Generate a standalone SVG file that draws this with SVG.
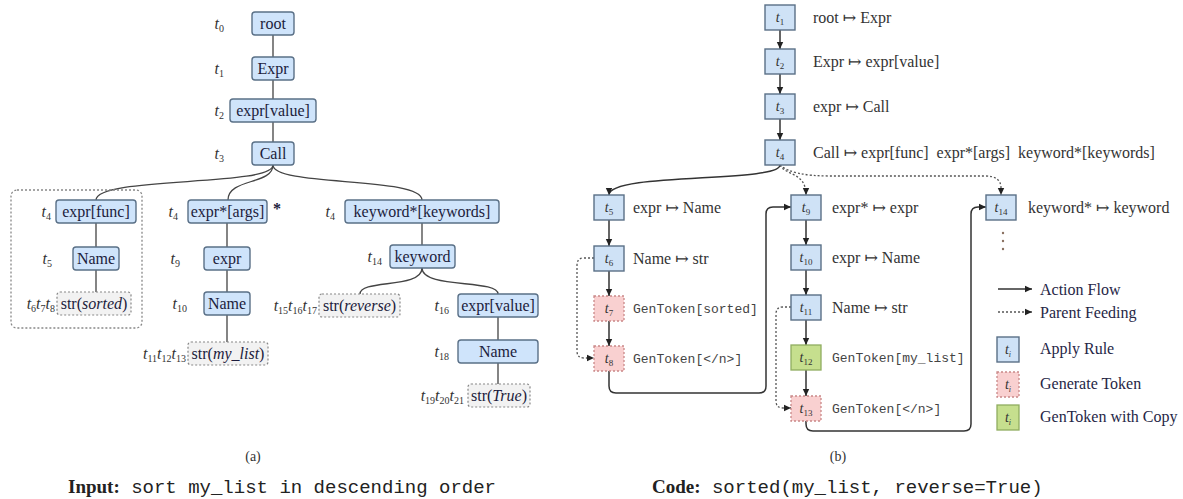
<svg xmlns="http://www.w3.org/2000/svg" width="1183" height="499" viewBox="0 0 1183 499">
<style>
.tn{fill:#cfe4fb;stroke:#5a7087;stroke-width:1.4}
.ts{fill:#f2f2f2;stroke:#888;stroke-width:1.2;stroke-dasharray:2 2}
.ab{fill:#cfe2f6;stroke:#5a7087;stroke-width:1.4}
.gt{fill:#f9d0d0;stroke:#c98888;stroke-width:1.3;stroke-dasharray:2 2}
.gc{fill:#c6df8e;stroke:#90ad60;stroke-width:1.3}
.lbl{font-family:"Liberation Serif","DejaVu Serif",serif;font-size:16px;fill:#1c1c3c;text-anchor:middle}
.tl{font-family:"Liberation Serif","DejaVu Serif",serif;font-size:16px;fill:#333;text-anchor:end}
.tc{font-family:"Liberation Serif","DejaVu Serif",serif;font-size:14px;fill:#333;text-anchor:middle}
.rule{font-family:"Liberation Serif","DejaVu Serif",serif;font-size:16px;fill:#333;white-space:pre}
.gen{font-family:"Liberation Mono","DejaVu Sans Mono",monospace;font-size:13px;fill:#444}
.leg{font-family:"Liberation Serif","DejaVu Serif",serif;font-size:16px;fill:#262646}
.cap{font-family:"Liberation Serif","DejaVu Serif",serif;font-size:14px;fill:#333;text-anchor:middle}
.edge{fill:none;stroke:#444;stroke-width:1.3}
.flow{fill:none;stroke:#333;stroke-width:1.5;marker-end:url(#ah)}
.feed{fill:none;stroke:#555;stroke-width:1.3;stroke-dasharray:2 2;marker-end:url(#ah)}
.frame{fill:none;stroke:#888;stroke-width:1.3;stroke-dasharray:2 2}
</style>
<defs>
<marker id="ah" markerWidth="8" markerHeight="8" refX="7" refY="4" orient="auto" markerUnits="userSpaceOnUse">
<path d="M0,0.8 L7,4 L0,7.2 Z" fill="#222"/>
</marker>
</defs>

<!-- ============ (a) AST ============ -->
<g id="connectors-a">
<path class="edge" d="M273,35 L273,57 M273,80 L273,99 M273,122 L273,142"/>
<path class="edge" d="M273,165 C273,187 96,176 96,200"/>
<path class="edge" d="M273,165 C273,185 228,178 228,200"/>
<path class="edge" d="M273,165 C273,187 422,176 422,200"/>
<path class="edge" d="M96,223 L96,247 M96,270 L96,292"/>
<path class="edge" d="M227,223 L227,247 M227,270 L227,292 M227,315 L227,342"/>
<path class="edge" d="M422,223 L422,245"/>
<path class="edge" d="M422,268 C422,289 360,279 360,294"/>
<path class="edge" d="M422,268 C422,289 498,279 498,294"/>
<path class="edge" d="M498,317 L498,340 M498,363 L498,384"/>
</g>
<rect id="subtree-frame" class="frame" x="11" y="190" width="131" height="138" rx="6"/>

<g id="a-root"><rect class="tn" x="252" y="12" width="42" height="23" rx="3"/><text class="lbl" x="273" y="29">root</text>
<text class="tl" x="224" y="29"><tspan font-style="italic">t</tspan><tspan font-size="10" dy="3">0</tspan></text></g>
<g id="a-expr1"><rect class="tn" x="252" y="57" width="42" height="23" rx="3"/><text class="lbl" x="273" y="74">Expr</text>
<text class="tl" x="224" y="74"><tspan font-style="italic">t</tspan><tspan font-size="10" dy="3">1</tspan></text></g>
<g id="a-exprvalue"><rect class="tn" x="230" y="99" width="86" height="23" rx="3"/><text class="lbl" x="273" y="116">expr[value]</text>
<text class="tl" x="224" y="116"><tspan font-style="italic">t</tspan><tspan font-size="10" dy="3">2</tspan></text></g>
<g id="a-call"><rect class="tn" x="252" y="142" width="42" height="23" rx="3"/><text class="lbl" x="273" y="159">Call</text>
<text class="tl" x="224" y="159"><tspan font-style="italic">t</tspan><tspan font-size="10" dy="3">3</tspan></text></g>

<g id="a-exprfunc"><rect class="tn" x="56" y="200" width="80" height="23" rx="3"/><text class="lbl" x="96" y="217">expr[func]</text>
<text class="tl" x="51" y="217"><tspan font-style="italic">t</tspan><tspan font-size="10" dy="3">4</tspan></text></g>
<g id="a-name5"><rect class="tn" x="73" y="247" width="46" height="23" rx="3"/><text class="lbl" x="96" y="264">Name</text>
<text class="tl" x="52" y="264"><tspan font-style="italic">t</tspan><tspan font-size="10" dy="3">5</tspan></text></g>
<g id="a-strsorted"><rect class="ts" x="57" y="292" width="74" height="23" rx="3"/><text class="lbl" x="94" y="309">str(<tspan font-style="italic">sorted</tspan>)</text>
<text class="tl" x="55" y="309"><tspan font-style="italic">t</tspan><tspan font-size="10" dy="3">6</tspan><tspan font-style="italic" dy="-3">t</tspan><tspan font-size="10" dy="3">7</tspan><tspan font-style="italic" dy="-3">t</tspan><tspan font-size="10" dy="3">8</tspan></text></g>

<g id="a-exprargs"><rect class="tn" x="188" y="200" width="79" height="23" rx="3"/><text class="lbl" x="227.5" y="217">expr*[args]</text>
<text class="tl" x="178" y="217"><tspan font-style="italic">t</tspan><tspan font-size="10" dy="3">4</tspan></text>
<text class="lbl" x="277" y="214" font-weight="bold">*</text></g>
<g id="a-expr9"><rect class="tn" x="204" y="247" width="46" height="23" rx="3"/><text class="lbl" x="227" y="264">expr</text>
<text class="tl" x="180" y="264"><tspan font-style="italic">t</tspan><tspan font-size="10" dy="3">9</tspan></text></g>
<g id="a-name10"><rect class="tn" x="204" y="292" width="46" height="23" rx="3"/><text class="lbl" x="227" y="309">Name</text>
<text class="tl" x="187" y="309"><tspan font-style="italic">t</tspan><tspan font-size="10" dy="3">10</tspan></text></g>
<g id="a-strmylist"><rect class="ts" x="188" y="342" width="80" height="23" rx="3"/><text class="lbl" x="228" y="359">str(<tspan font-style="italic">my_list</tspan>)</text>
<text class="tl" x="186" y="359"><tspan font-style="italic">t</tspan><tspan font-size="10" dy="3">11</tspan><tspan font-style="italic" dy="-3">t</tspan><tspan font-size="10" dy="3">12</tspan><tspan font-style="italic" dy="-3">t</tspan><tspan font-size="10" dy="3">13</tspan></text></g>

<g id="a-keywords"><rect class="tn" x="345" y="200" width="154" height="23" rx="3"/><text class="lbl" x="422" y="217">keyword*[keywords]</text>
<text class="tl" x="335" y="217"><tspan font-style="italic">t</tspan><tspan font-size="10" dy="3">4</tspan></text></g>
<g id="a-keyword"><rect class="tn" x="390" y="245" width="65" height="23" rx="3"/><text class="lbl" x="422.5" y="262">keyword</text>
<text class="tl" x="382" y="262"><tspan font-style="italic">t</tspan><tspan font-size="10" dy="3">14</tspan></text></g>
<g id="a-strreverse"><rect class="ts" x="319" y="294" width="81" height="23" rx="3"/><text class="lbl" x="359.5" y="311">str(<tspan font-style="italic">reverse</tspan>)</text>
<text class="tl" x="317" y="311"><tspan font-style="italic">t</tspan><tspan font-size="10" dy="3">15</tspan><tspan font-style="italic" dy="-3">t</tspan><tspan font-size="10" dy="3">16</tspan><tspan font-style="italic" dy="-3">t</tspan><tspan font-size="10" dy="3">17</tspan></text></g>
<g id="a-exprvalue16"><rect class="tn" x="458" y="294" width="80" height="23" rx="3"/><text class="lbl" x="498" y="311">expr[value]</text>
<text class="tl" x="449" y="311"><tspan font-style="italic">t</tspan><tspan font-size="10" dy="3">16</tspan></text></g>
<g id="a-name18"><rect class="tn" x="458" y="340" width="80" height="23" rx="3"/><text class="lbl" x="498" y="357">Name</text>
<text class="tl" x="449" y="357"><tspan font-style="italic">t</tspan><tspan font-size="10" dy="3">18</tspan></text></g>
<g id="a-strtrue"><rect class="ts" x="468" y="384" width="62" height="23" rx="3"/><text class="lbl" x="499" y="401">str(<tspan font-style="italic">True</tspan>)</text>
<text class="tl" x="464" y="401"><tspan font-style="italic">t</tspan><tspan font-size="10" dy="3">19</tspan><tspan font-style="italic" dy="-3">t</tspan><tspan font-size="10" dy="3">20</tspan><tspan font-style="italic" dy="-3">t</tspan><tspan font-size="10" dy="3">21</tspan></text></g>

<!-- ============ (b) action sequence ============ -->
<g id="connectors-b">
<path class="flow" d="M780,30 L780,49"/>
<path class="flow" d="M780,74 L780,94"/>
<path class="flow" d="M780,119 L780,140"/>
<path class="flow" d="M780,165 C780,183 609,172 609,195"/>
<path class="feed" d="M780,165 C786,176 806,172 806,195"/>
<path class="feed" d="M780,165 Q792,176 830,176 L985,176 Q1001,176 1001,188 L1001,195"/>
<path class="flow" d="M609,220 L609,246"/>
<path class="flow" d="M609,271 L609,296"/>
<path class="flow" d="M609,321 L609,346"/>
<path class="feed" d="M594,258 L584,258 Q577,258 577,265 L577,351 Q577,358 584,358 L594,358"/>
<path class="flow" d="M609,371 L609,386 Q609,393 616,393 L759,393 Q766,393 766,386 L766,214 Q766,207 773,207 L791,207"/>
<path class="flow" d="M806,220 L806,245"/>
<path class="flow" d="M806,270 L806,295"/>
<path class="flow" d="M806,320 L806,345"/>
<path class="flow" d="M806,370 L806,396"/>
<path class="feed" d="M791,307 L783,307 Q776,307 776,314 L776,401 Q776,408 783,408 L791,408"/>
<path class="flow" d="M806,421 L806,424 Q806,431 813,431 L964,431 Q971,431 971,424 L971,214 Q971,207 978,207 L986,207"/>
</g>

<g id="b-t1"><rect class="ab" x="765" y="5" width="30" height="25"/><text class="tc" x="780" y="22"><tspan font-style="italic">t</tspan><tspan font-size="9" dy="3">1</tspan></text><text class="rule" x="813" y="23">root ↦ Expr</text></g>
<g id="b-t2"><rect class="ab" x="765" y="49" width="30" height="25"/><text class="tc" x="780" y="66"><tspan font-style="italic">t</tspan><tspan font-size="9" dy="3">2</tspan></text><text class="rule" x="813" y="67">Expr ↦ expr[value]</text></g>
<g id="b-t3"><rect class="ab" x="765" y="94" width="30" height="25"/><text class="tc" x="780" y="111"><tspan font-style="italic">t</tspan><tspan font-size="9" dy="3">3</tspan></text><text class="rule" x="813" y="112">expr ↦ Call</text></g>
<g id="b-t4"><rect class="ab" x="765" y="140" width="30" height="25"/><text class="tc" x="780" y="157"><tspan font-style="italic">t</tspan><tspan font-size="9" dy="3">4</tspan></text><text class="rule" x="813" y="158" xml:space="preserve">Call ↦ expr[func]  expr*[args]  keyword*[keywords]</text></g>

<g id="b-t5"><rect class="ab" x="594" y="195" width="30" height="25"/><text class="tc" x="609" y="212"><tspan font-style="italic">t</tspan><tspan font-size="9" dy="3">5</tspan></text><text class="rule" x="633" y="213">expr ↦ Name</text></g>
<g id="b-t6"><rect class="ab" x="594" y="246" width="30" height="25"/><text class="tc" x="609" y="263"><tspan font-style="italic">t</tspan><tspan font-size="9" dy="3">6</tspan></text><text class="rule" x="633" y="264">Name ↦ str</text></g>
<g id="b-t7"><rect class="gt" x="594" y="296" width="30" height="25"/><text class="tc" x="609" y="313"><tspan font-style="italic">t</tspan><tspan font-size="9" dy="3">7</tspan></text><text class="gen" x="633" y="313">GenToken[sorted]</text></g>
<g id="b-t8"><rect class="gt" x="594" y="346" width="30" height="25"/><text class="tc" x="609" y="363"><tspan font-style="italic">t</tspan><tspan font-size="9" dy="3">8</tspan></text><text class="gen" x="633" y="363">GenToken[&lt;/n&gt;]</text></g>

<g id="b-t9"><rect class="ab" x="791" y="195" width="30" height="25"/><text class="tc" x="806" y="212"><tspan font-style="italic">t</tspan><tspan font-size="9" dy="3">9</tspan></text><text class="rule" x="832" y="213">expr* ↦ expr</text></g>
<g id="b-t10"><rect class="ab" x="791" y="245" width="30" height="25"/><text class="tc" x="806" y="262"><tspan font-style="italic">t</tspan><tspan font-size="9" dy="3">10</tspan></text><text class="rule" x="832" y="263">expr ↦ Name</text></g>
<g id="b-t11"><rect class="ab" x="791" y="295" width="30" height="25"/><text class="tc" x="806" y="312"><tspan font-style="italic">t</tspan><tspan font-size="9" dy="3">11</tspan></text><text class="rule" x="832" y="313">Name ↦ str</text></g>
<g id="b-t12"><rect class="gc" x="791" y="345" width="30" height="25"/><text class="tc" x="806" y="362"><tspan font-style="italic">t</tspan><tspan font-size="9" dy="3">12</tspan></text><text class="gen" x="832" y="362">GenToken[my_list]</text></g>
<g id="b-t13"><rect class="gt" x="791" y="396" width="30" height="25"/><text class="tc" x="806" y="413"><tspan font-style="italic">t</tspan><tspan font-size="9" dy="3">13</tspan></text><text class="gen" x="832" y="413">GenToken[&lt;/n&gt;]</text></g>

<g id="b-t14"><rect class="ab" x="986" y="195" width="30" height="25"/><text class="tc" x="1001" y="212"><tspan font-style="italic">t</tspan><tspan font-size="9" dy="3">14</tspan></text><text class="rule" x="1028" y="213">keyword* ↦ keyword</text>
<circle cx="1003" cy="233" r="1.2" fill="#8a7060"/><circle cx="1003" cy="241" r="1.2" fill="#8a7060"/><circle cx="1003" cy="249" r="1.2" fill="#8a7060"/></g>

<g id="legend">
<path class="flow" d="M998,289 L1032,289"/>
<text class="leg" x="1040" y="295">Action Flow</text>
<path class="feed" d="M998,312 L1032,312"/>
<text class="leg" x="1040" y="318">Parent Feeding</text>
<rect class="ab" x="997" y="337" width="22" height="25"/><text class="tc" x="1008" y="354"><tspan font-style="italic">t</tspan><tspan font-size="8" dy="3" font-style="italic">i</tspan></text>
<text class="leg" x="1040" y="354">Apply Rule</text>
<rect class="gt" x="997" y="372" width="22" height="25"/><text class="tc" x="1008" y="389"><tspan font-style="italic">t</tspan><tspan font-size="8" dy="3" font-style="italic">i</tspan></text>
<text class="leg" x="1040" y="389">Generate Token</text>
<rect class="gc" x="997" y="405" width="22" height="25"/><text class="tc" x="1008" y="422"><tspan font-style="italic">t</tspan><tspan font-size="8" dy="3" font-style="italic">i</tspan></text>
<text class="leg" x="1040" y="422">GenToken with Copy</text>
</g>

<g id="captions">
<text class="cap" x="253" y="461">(a)</text>
<text class="cap" x="838" y="461">(b)</text>
<text x="68" y="493" font-size="19" fill="#222"><tspan font-family="'Liberation Serif',serif" font-weight="bold">Input:</tspan><tspan font-family="'Liberation Mono',monospace"> sort my_list in descending order</tspan></text>
<text x="652" y="493" font-size="19" fill="#222"><tspan font-family="'Liberation Serif',serif" font-weight="bold">Code:</tspan><tspan font-family="'Liberation Mono',monospace"> sorted(my_list, reverse=True)</tspan></text>
</g>
</svg>
